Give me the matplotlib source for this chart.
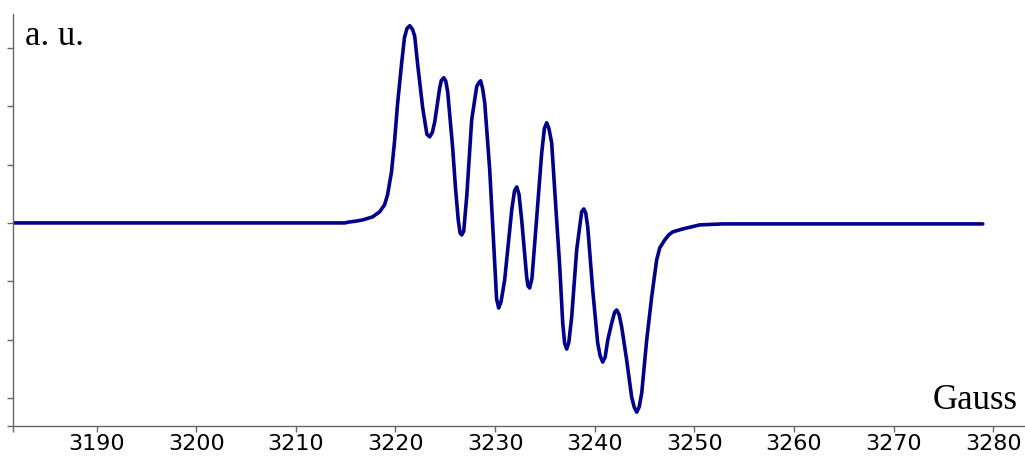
import numpy as np
import matplotlib as mpl
mpl.use('Agg')
import matplotlib.pyplot as plt

# field (Gauss) and signal (a.u.)
field = [3181.6, 3190.3, 3200.3, 3210.4, 3214.9, 3215.4, 3216.0, 3216.7, 3217.7, 3218.4,
         3218.9, 3219.2, 3219.6, 3219.9, 3220.2, 3220.6, 3220.9, 3221.15, 3221.43, 3221.7,
         3221.93, 3222.23, 3222.73, 3223.15, 3223.43, 3223.7, 3223.94, 3224.44, 3224.6,
         3224.84, 3225.05, 3225.24, 3225.74, 3226.04, 3226.3, 3226.48, 3226.65, 3226.85,
         3227.15, 3227.65, 3228.15, 3228.35, 3228.55, 3228.75, 3228.96, 3229.46,
         3229.96, 3230.15, 3230.36, 3230.6, 3230.96, 3231.67, 3231.95, 3232.17, 3232.4,
         3232.67, 3233.17, 3233.3, 3233.47, 3233.7, 3233.98, 3234.68, 3234.95, 3235.18,
         3235.4, 3235.68, 3236.18, 3236.48, 3236.79, 3236.98, 3237.19, 3237.4,
         3237.69, 3238.19, 3238.69, 3238.9, 3239.1, 3239.3, 3239.8, 3240.3, 3240.55,
         3240.8, 3241.05, 3241.31, 3241.71, 3242.0, 3242.21, 3242.45, 3242.71, 3243.21,
         3243.71, 3243.97, 3244.22, 3244.47, 3244.72, 3245.22, 3245.72, 3246.22, 3246.53,
         3247.03, 3247.43, 3247.83, 3248.84, 3250.54, 3252.85, 3257.87, 3265.0, 3272.0,
         3278.96]
signal = [0.0, 0.0, 0.0, 0.0, 0.0, 0.017, 0.03, 0.051, 0.103, 0.189,
          0.309, 0.48, 0.875, 1.389, 2.024, 2.71, 3.173, 3.33, 3.379, 3.32,
          3.2, 2.71, 1.973, 1.52, 1.475, 1.55, 1.732, 2.316, 2.44,
          2.487, 2.43, 2.247, 1.286, 0.566, 0.05, -0.17, -0.206, -0.14,
          0.446, 1.767, 2.333, 2.4, 2.436, 2.3, 2.058, 0.909,
          -0.686, -1.3, -1.458, -1.35, -0.978, 0.223, 0.55, 0.617, 0.49,
          0.051, -0.926, -1.08, -1.115, -0.95, -0.343, 1.201, 1.62, 1.715,
          1.62, 1.372, 0.051, -0.72, -1.715, -2.06, -2.161, -2.05,
          -1.612, -0.463, 0.19, 0.24, 0.17, -0.069, -1.149, -2.058, -2.28,
          -2.384, -2.3, -2.007, -1.715, -1.53, -1.492, -1.57, -1.784, -2.35,
          -2.985, -3.16, -3.242, -3.15, -2.916, -2.007, -1.269, -0.635, -0.429,
          -0.292, -0.206, -0.154, -0.103, -0.034, -0.017, -0.017, -0.017, -0.017,
          -0.017]

xticks = [3181.6, 3190, 3200, 3210, 3220, 3230, 3240, 3250, 3260, 3270, 3280]
xticklabels = ['', '3190', '3200', '3210', '3220', '3230', '3240', '3250', '3260', '3270', '3280']
yticks = [-3.48, -3, -2, -1, 0, 1, 2, 3]

f = plt.figure(figsize=(10.25, 4.59), dpi=100)
ax = f.add_axes([13/1025, 33/459, 1-13/1025, 412/459])
ax.plot(field, signal, color='#00008b', lw=2.6, solid_joinstyle='round', solid_capstyle='round')
ax.set_xlim(3181.6, 3283.2)
ax.set_ylim(-3.48, 3.58)

for s in ['top', 'right']:
    ax.spines[s].set_visible(False)
for s in ['left', 'bottom']:
    ax.spines[s].set_color('#666666')
    ax.spines[s].set_linewidth(1.0)

ax.set_xticks(xticks)
ax.set_xticklabels(xticklabels, fontsize=16, family='DejaVu Sans')
ax.set_yticks(yticks)
ax.set_yticklabels([])
ax.tick_params(axis='both', direction='out', length=4, width=1, color='#666666', pad=2)

f.text(25/1025, 1-45/459, 'a. u.', fontsize=25, family='Liberation Serif', ha='left', va='baseline')
f.text(1018/1025, 1-409/459, 'Gauss', fontsize=25, family='Liberation Serif', ha='right', va='baseline')

f.savefig('out.png', dpi=100)
